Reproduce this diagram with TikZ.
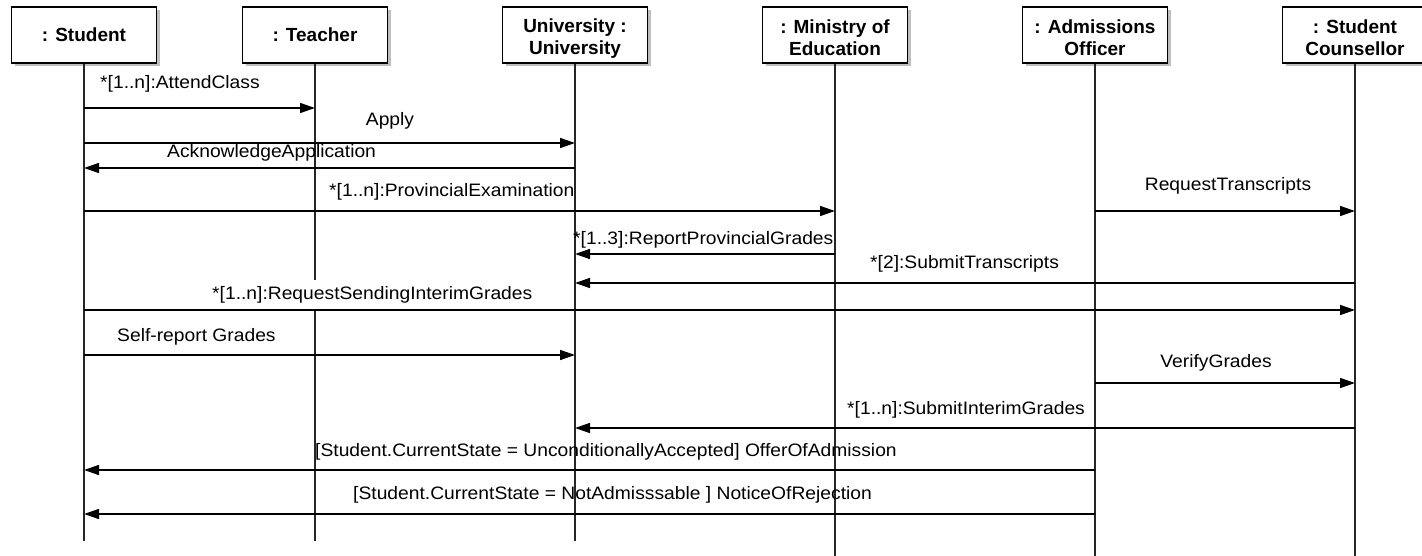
\documentclass[tikz,border=0pt]{standalone}
\usepackage{fontspec}
\setmainfont{Liberation Sans}
\newfontfamily\msgfont[FakeStretch=1.07]{Liberation Sans}
\usetikzlibrary{arrows.meta,shadows}
% extra head room so two-line titles sit a little lower in their boxes
\newcommand{\toproom}{\rule{0pt}{20pt}}
\begin{document}
\begin{tikzpicture}[x=1pt,y=-1pt,
  objbox/.style={draw=black, line width=1.5pt, fill=white, minimum width=145pt,
    minimum height=56pt, inner sep=0pt, align=center,
    font=\bfseries\fontsize{19}{22}\selectfont,
    drop shadow={shadow xshift=3pt,shadow yshift=-3pt,fill=black!50}},
  lifeline/.style={line width=1.5pt, draw=black!85},
  msg/.style={line width=1.5pt, -{Triangle[length=15pt,width=10pt]}},
  lbl/.style={font=\msgfont\fontsize{18}{20}\selectfont, inner sep=0pt, anchor=base west},
  lblc/.style={font=\msgfont\fontsize{18}{20}\selectfont, inner sep=0pt, anchor=base}]

\useasboundingbox (0,0) rectangle (1422,556);
\clip (0,0) rectangle (1422,556);

% object boxes
\node[objbox] (stu) at (84,35)   {: Student};
\node[objbox] (tea) at (315,35)  {: Teacher};
\node[objbox] (uni) at (575,35)  {\toproom University :\\University};
\node[objbox] (min) at (835,35)  {\toproom : Ministry of\\Education};
\node[objbox] (adm) at (1095,35) {\toproom : Admissions\\Officer};
\node[objbox] (cou) at (1355,35) {\toproom : Student\\Counsellor};

% lifeline ends
\coordinate (stu-end) at (84,541);
\coordinate (tea-end) at (315,541);
\coordinate (uni-end) at (575,541);
\coordinate (min-end) at (835,556);
\coordinate (adm-end) at (1095,556);
\coordinate (cou-end) at (1355,556);

\foreach \o in {stu,tea,uni,min,adm,cou}
  \draw[lifeline] (\o) -- (\o-end);

% message labels
\node[lbl]  (l1)  at (100,89)   {*[1..n]:AttendClass};
\node[lblc] (l2)  at (390,126)  {Apply};
\node[lbl]  (l3)  at (167,158)  {AcknowledgeApplication};
\node[lbl]  (l4)  at (329,197)  {*[1..n]:ProvincialExamination};
\node[lblc] (l5)  at (1228,191) {RequestTranscripts};
\node[lbl]  (l6)  at (573,244)  {*[1..3]:ReportProvincialGrades};
\node[lbl]  (l7)  at (870,269)  {*[2]:SubmitTranscripts};
\node[lbl, fill=white, inner xsep=9pt, inner ysep=6pt] (l8) at (203,299)
  {*[1..n]:RequestSendingInterimGrades};
\node[lbl]  (l9)  at (117,341)  {Self-report Grades};
\node[lblc] (l10) at (1216,367) {VerifyGrades};
\node[lbl]  (l11) at (847,414)  {*[1..n]:SubmitInterimGrades};
\node[lbl]  (l12) at (315,456)  {[Student.CurrentState = UnconditionallyAccepted] OfferOfAdmission};
\node[lbl]  (l13) at (353,499)  {[Student.CurrentState = NotAdmisssable ] NoticeOfRejection};

% messages
\draw[msg] (stu |- 0,108) -- (tea |- 0,108);
\draw[msg] (stu |- 0,143) -- (uni |- 0,143);
\draw[msg] (uni |- 0,168) -- (stu |- 0,168);
\draw[msg] (stu |- 0,211) -- (min |- 0,211);
\draw[msg] (adm |- 0,211) -- (cou |- 0,211);
\draw[msg] (min |- 0,254) -- (uni |- 0,254);
\draw[msg] (cou |- 0,283) -- (uni |- 0,283);
\draw[msg] (stu |- 0,310) -- (cou |- 0,310);
\draw[msg] (stu |- 0,355) -- (uni |- 0,355);
\draw[msg] (adm |- 0,383) -- (cou |- 0,383);
\draw[msg] (cou |- 0,428) -- (uni |- 0,428);
\draw[msg] (adm |- 0,470) -- (stu |- 0,470);
\draw[msg] (adm |- 0,514) -- (stu |- 0,514);
\end{tikzpicture}
\end{document}
